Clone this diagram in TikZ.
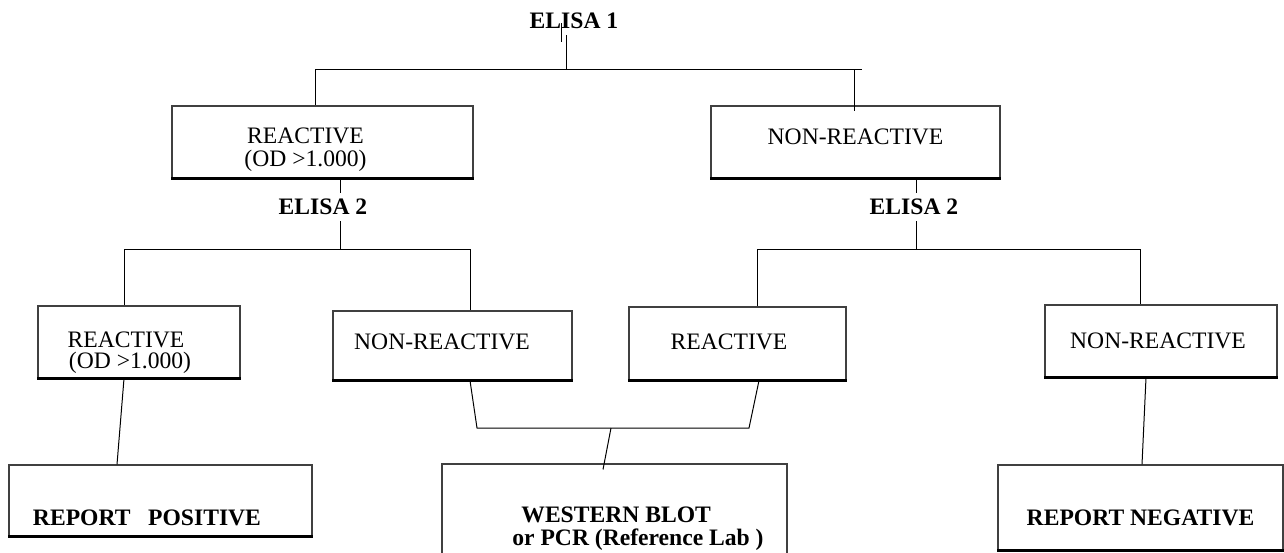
\documentclass[tikz,border=0pt]{standalone}
\usepackage{fontspec}
\setmainfont{Liberation Serif}
\usepackage{tikz}

\tikzset{
  box/.style={draw=black!75, line width=0.55pt, align=center, inner sep=0pt,
    font=\fontsize{11.8pt}{11.5pt}\selectfont},
  boldbox/.style={box, font=\fontsize{11.8pt}{11.5pt}\selectfont\bfseries},
  test/.style={font=\fontsize{11.8pt}{11.5pt}\selectfont\bfseries, fill=white, inner sep=3pt}
}

\begin{document}
\begin{tikzpicture}[x=0.5pt,y=-0.5pt,line width=0.5pt]
\fill[white] (0,0) rectangle (1284,552);
\useasboundingbox (0,0) rectangle (1284,552);

\node[test,fill=none] (e1) at (574,21) {ELISA 1};

\node[box,minimum width=150.5pt,minimum height=36pt] (r1) at (322.5,142)
  {\rule{0pt}{15.7pt}REACTIVE\hspace*{17pt}\\(OD >1.000)\hspace*{17pt}};
\node[box,minimum width=144.5pt,minimum height=36pt,text height=3pt,text depth=1pt] (n1) at (855.5,142) {NON-REACTIVE};

\node[box,minimum width=101pt,minimum height=36pt] (r2) at (139,342)
  {\rule{0pt}{19pt}REACTIVE\hspace*{13pt}\\[-1pt](OD >1.000)\hspace*{9pt}};
\node[box,minimum width=119.5pt,minimum height=34.5pt,text height=4.5pt,text depth=1pt] (n2) at (452.5,345.5) {NON-REACTIVE\hspace*{10.5pt}};
\node[box,minimum width=108.5pt,minimum height=36.5pt,text height=6.5pt,text depth=1pt] (r3) at (737.5,343.5) {REACTIVE\hspace*{8.5pt}};
\node[box,minimum width=116pt,minimum height=36pt,text height=8pt,text depth=1pt] (n3) at (1161,341) {NON-REACTIVE\hspace*{3pt}};

\node[boldbox,minimum width=151.5pt,minimum height=35.5pt,text height=24.5pt,text depth=0pt] (pos) at (160.5,500.5)
  {REPORT~~~POSITIVE\hspace*{13.5pt}};
\node[boldbox,align=left,minimum width=172.5pt,minimum height=65pt] (wb) at (614.5,529)
  {\hspace*{28pt}WESTERN BLOT\\\hspace*{23.5pt}or PCR (Reference Lab )};
\node[boldbox,minimum width=142.5pt,minimum height=42.5pt,text height=17.5pt,text depth=0pt] (neg) at (1140.5,507.5)
  {REPORT NEGATIVE};

\foreach \b in {r1,n1,r2,n2,r3,n3,pos,neg}
  \draw[line width=1.1pt] (\b.south west) -- (\b.south east);

%-------------------------------------
\coordinate (b1) at (566,69);
\coordinate (b1l) at (315,69);
\coordinate (b1r) at (862,69);
\coordinate (b1n) at (854,69);
\draw (561,23) -- (561,42);
\draw (b1 |- e1.south) -- (b1);
\draw (b1l) -- (b1r);
\draw (b1l) -- (b1l |- r1.north);
\draw (b1n) -- ([yshift=-3pt]b1n |- n1.north);

%-------------------------------------
\coordinate (b2) at (340,249);
\coordinate (b2l) at (124,249);
\coordinate (b2r) at (470,249);
\draw (b2 |- r1.south) -- (b2);
\draw (b2l) -- (b2r);
\draw (b2l) -- (b2l |- r2.north);
\draw (b2r) -- (b2r |- n2.north);
\node[test] (e2l) at (323,207) {ELISA 2};

\coordinate (b3) at (916,249);
\coordinate (b3l) at (757,249);
\coordinate (b3r) at (1140,249);
\draw (b3 |- n1.south) -- (b3);
\draw (b3l) -- (b3r);
\draw (b3l) -- (b3l |- r3.north);
\draw (b3r) -- (b3r |- n3.north);
\node[test] (e2r) at (914,207) {ELISA 2};

%-------------------------------------
\coordinate (j1) at (477,428);
\coordinate (j2) at (749,428);
\coordinate (j3) at (611,428);
\draw ([xshift=-7.5pt]r2.south) -- ([xshift=-21.75pt]pos.north);
\draw ([xshift=8.75pt]n2.south) -- (j1) -- (j2) -- ([xshift=10.75pt]r3.south);
\draw (j3) -- ([xshift=-5.75pt,yshift=-3pt]wb.north);
\draw ([xshift=-7.5pt]n3.south) -- ([xshift=0.75pt]neg.north);
\end{tikzpicture}
\end{document}
